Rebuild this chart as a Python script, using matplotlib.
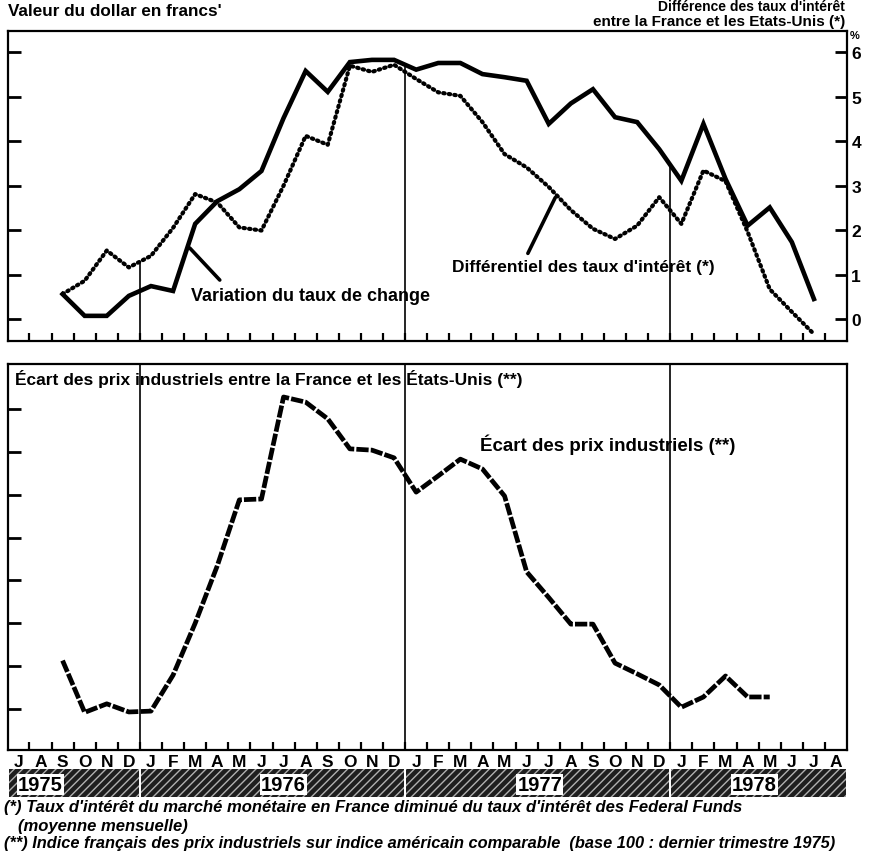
import numpy as np
import matplotlib
matplotlib.use("Agg")
import matplotlib.pyplot as plt
from matplotlib.patches import Rectangle

plt.rcParams['font.family'] = ['Liberation Sans', 'DejaVu Sans']

# --- Données ---
months = list("JASOND") + list("JFMAMJJASOND") * 2 + list("JFMAMJJA")   # juil. 1975 -> août 1978
years = ["1975", "1976", "1977", "1978"]
year_pos = [1.0, 12.0, 23.6, 33.3]
year_bounds = [-0.47, 5.5, 17.5, 29.5, 37.5]

# variation du taux de change (sept. 1975 -> juil. 1978)
change_start = 2
change = [0.56, 0.07, 0.07, 0.52, 0.74, 0.63, 2.14, 2.65, 2.92, 3.33, 4.52, 5.58,
          5.11, 5.78, 5.83, 5.83, 5.61, 5.76, 5.76, 5.51, 5.44, 5.36, 4.39, 4.85,
          5.17, 4.54, 4.43, 3.82, 3.11, 4.39, 3.15, 2.10, 2.51, 1.73, 0.45]

# différentiel des taux d'intérêt (%)
diff_start = 2
diff = [0.56, 0.86, 1.54, 1.16, 1.42, 2.05, 2.81, 2.62, 2.06, 1.99, 3.00, 4.12,
        3.92, 5.70, 5.56, 5.72, 5.40, 5.10, 5.02, 4.43, 3.71, 3.41, 2.97, 2.45,
        2.03, 1.80, 2.10, 2.74, 2.14, 3.34, 3.10, 1.96, 0.67, 0.16, -0.34]

# écart des prix industriels (graduations sans valeur lisible)
prix_start = 2
prix = [1.13, -0.08, 0.12, -0.07, -0.05, 0.79, 2.00, 3.34, 4.88, 4.90, 7.28, 7.16,
        6.77, 6.07, 6.04, 5.86, 5.06, 5.44, 5.83, 5.60, 4.97, 3.20, 2.60, 1.98,
        1.98, 1.07, 0.82, 0.56, 0.04, 0.28, 0.77, 0.28, 0.28]

x_change = np.arange(len(change)) + change_start
x_diff = np.arange(len(diff)) + diff_start
x_prix = np.arange(len(prix)) + prix_start
xm = np.arange(len(months))
xlim = (-0.47, 37.5)

fig = plt.figure(figsize=(8.87, 8.53), dpi=100)
ax1 = fig.add_axes([0.009, 0.5991, 0.946, 0.3634])
ax2 = fig.add_axes([0.009, 0.1196, 0.946, 0.4525])
ax3 = fig.add_axes([0.009, 0.0645, 0.946, 0.0328])

# --- Panneau du haut ---
ax1.plot(x_change, change, color='black', lw=3.3, solid_joinstyle='miter')
ax1.plot(x_diff, diff, color='black', lw=3.0, linestyle=(0, (0.35, 1.0)),
         dash_capstyle='round')
ax1.set_xlim(*xlim)
ax1.set_ylim(-0.495, 6.48)
for b in year_bounds[1:-1]:
    top = max(np.interp(b, x_change, change), np.interp(b, x_diff, diff))
    ax1.vlines(b, -0.495, top, color='black', lw=1.2)

ax1.set_yticks(range(7))
ax1.tick_params(axis='y', which='both', direction='in', length=9, width=2,
                left=True, right=True, labelleft=False, labelright=True,
                labelsize=12.5, pad=3)
for lab in ax1.get_yticklabels():
    lab.set_fontweight('bold')
ax1.set_xticks(xm[:-1] + 0.5, minor=True)
ax1.set_xticks([])
ax1.tick_params(axis='x', which='minor', direction='in', length=6, width=1.6)

ax1.annotate('', xy=(7.67, np.interp(7.67, x_change, change)), xytext=(9.2, 0.83),
             arrowprops=dict(arrowstyle='-', lw=2.6, color='black'))
ax1.text(7.8, 0.52, "Variation du taux de change", fontsize=13, fontweight='bold',
         ha='left', va='center')
ax1.annotate('', xy=(24.35, np.interp(24.35, x_diff, diff)), xytext=(23.0, 1.42),
             arrowprops=dict(arrowstyle='-', lw=2.6, color='black'))
ax1.text(19.6, 1.17, "Différentiel des taux d'intérêt (*)", fontsize=12.5,
         fontweight='bold', ha='left', va='center')

# --- Panneau du bas ---
ax2.plot(x_prix, prix, color='black', lw=3.4, linestyle=(0, (2.6, 0.45)),
         dash_capstyle='butt')
ax2.set_xlim(*xlim)
ax2.set_ylim(-0.957, 8.05)
for b in year_bounds[1:-1]:
    ax2.axvline(b, color='black', lw=1.2)
ax2.set_yticks(range(8))
ax2.tick_params(axis='y', direction='in', length=9, width=2, labelleft=False)
ax2.set_xticks(xm)
ax2.set_xticklabels(months, fontsize=12.5, fontweight='bold')
ax2.set_xticks(xm[:-1] + 0.5, minor=True)
ax2.tick_params(axis='x', which='major', length=0, pad=3)
ax2.tick_params(axis='x', which='minor', direction='in', length=6, width=1.6)
ax2.text(0.008, 0.987, "Écart des prix industriels entre la France et les États-Unis (**)",
         transform=ax2.transAxes, fontsize=12.5, fontweight='bold', ha='left', va='top')
ax2.text(20.9, 6.18, "Écart des prix industriels (**)", fontsize=13.5,
         fontweight='bold', ha='left', va='center')

for ax in (ax1, ax2):
    for s in ax.spines.values():
        s.set_linewidth(1.6)

# --- Bandeau des années ---
ax3.set_xlim(*xlim)
ax3.set_ylim(0, 1)
ax3.axis('off')
for i in range(len(years)):
    ax3.add_patch(Rectangle((year_bounds[i] + 0.05, 0), year_bounds[i + 1] - year_bounds[i] - 0.1, 1,
                            facecolor='#1e1e1e', edgecolor='#b0b0b0', lw=0, hatch='////'))
    ax3.text(year_pos[i], 0.45, years[i], fontsize=14.5, fontweight='bold', ha='center',
             va='center', bbox=dict(boxstyle='square,pad=0.05', facecolor='white', edgecolor='none'))

# --- Titres et notes ---
fig.text(0.009, 0.986, "Valeur du dollar en francs'", fontsize=12.3, fontweight='bold',
         ha='left', va='center')
fig.text(0.953, 0.9995, "Différence des taux d'intérêt", fontsize=10, fontweight='bold',
         ha='right', va='top')
fig.text(0.953, 0.9742, "entre la France et les Etats-Unis (*)", fontsize=11,
         fontweight='bold', ha='right', va='center')
fig.text(0.958, 0.958, "%", fontsize=8, fontweight='bold', ha='left', va='center')
fig.text(0.004, 0.053, "(*) Taux d'intérêt du marché monétaire en France diminué du taux d'intérêt des Federal Funds",
         fontsize=12, fontweight='bold', style='italic', ha='left', va='center')
fig.text(0.02, 0.031, "(moyenne mensuelle)", fontsize=12, fontweight='bold',
         style='italic', ha='left', va='center')
fig.text(0.004, 0.0115, "(**) Indice français des prix industriels sur indice américain comparable  (base 100 : dernier trimestre 1975)",
         fontsize=11.8, fontweight='bold', style='italic', ha='left', va='center')

fig.savefig("out.png", dpi=100)
